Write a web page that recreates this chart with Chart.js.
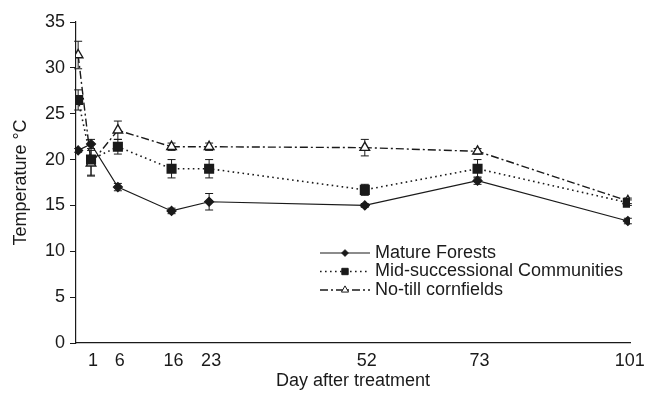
<!DOCTYPE html>
<html>
<head>
<meta charset="utf-8">
<script src="https://cdn.jsdelivr.net/npm/chart.js@4.4.0/dist/chart.umd.min.js"></script>
<style>
    html, body { margin: 0; padding: 0; background: #fff; }
    #wrap { width: 652px; height: 394px; }
</style>
</head>
<body>
<div id="wrap"><canvas id="tempChart" width="652" height="394"></canvas></div>
<script>
// Values (first point sits just before day 1, on the axis)
const days = [-1.4, 1, 6, 16, 23, 52, 73, 101];
const tickDays = [1, 6, 16, 23, 52, 73, 101];

const matureForests = [21.0, 21.7, 17.0, 14.4, 15.4, 15.0, 17.7, 13.3];
const matureErr     = [0.2, 0.5, 0.4, 0.3, 0.9, 0.2, 0.4, 0.3];

const midSuccessional = [26.5, 20.0, 21.4, 19.0, 19.0, 16.7, 19.0, 15.3];
const midErr          = [1.1, 1.7, 0.8, 1.0, 1.0, 0.6, 1.0, 0.3];

const noTill    = [31.4, 19.6, 23.2, 21.4, 21.4, 21.3, 20.9, 15.5];
const noTillErr = [1.5, 1.4, 1.0, 0.4, 0.4, 0.9, 0.3, 0.3];

const seriesNames = ['Mature Forests', 'Mid-successional Communities', 'No-till cornfields'];

(function() {
    'use strict';

    const INK = '#1a1a1a';
    const FONT = '"Liberation Sans", Arial, sans-serif';

    const toPoints = (vals) => vals.map((v, i) => ({ x: days[i], y: v }));

    /**
     * Error bars drawn from each dataset's errors array via the y scale
     */
    const errorBars = {
        id: 'errorBars',
        beforeDatasetsDraw(chart) {
            const ctx = chart.ctx;
            const yScale = chart.scales.y;
            ctx.save();
            ctx.strokeStyle = INK;
            ctx.lineWidth = 1;
            ctx.setLineDash([]);
            chart.data.datasets.forEach((ds, di) => {
                const meta = chart.getDatasetMeta(di);
                meta.data.forEach((pt, i) => {
                    const e = ds.errors[i];
                    if (!e) return;
                    const top = yScale.getPixelForValue(ds.data[i].y + e);
                    const bot = yScale.getPixelForValue(ds.data[i].y - e);
                    ctx.beginPath();
                    ctx.moveTo(pt.x, top); ctx.lineTo(pt.x, bot);
                    ctx.moveTo(pt.x - 4, top); ctx.lineTo(pt.x + 4, top);
                    ctx.moveTo(pt.x - 4, bot); ctx.lineTo(pt.x + 4, bot);
                    ctx.stroke();
                });
            });
            ctx.restore();
        }
    };

    /**
     * Legend drawn inside the plot area, lower right
     */
    const innerLegend = {
        id: 'innerLegend',
        afterDraw(chart, args, opts) {
            const ctx = chart.ctx;
            ctx.save();
            ctx.font = '18px ' + FONT;
            ctx.fillStyle = INK;
            ctx.textBaseline = 'middle';
            chart.data.datasets.forEach((ds, i) => {
                const y = opts.top + i * opts.rowGap;
                ctx.strokeStyle = INK;
                ctx.lineWidth = ds.borderWidth;
                ctx.setLineDash(ds.borderDash || []);
                ctx.beginPath();
                ctx.moveTo(opts.left, y);
                ctx.lineTo(opts.left + opts.lineLen, y);
                ctx.stroke();
                ctx.setLineDash([]);
                ctx.fillStyle = ds.pointBackgroundColor;
                ctx.lineWidth = 1;
                Chart.helpers.drawPoint(ctx, {
                    pointStyle: ds.pointStyle,
                    radius: ds.pointRadius * 0.75,
                    rotation: 0,
                    borderWidth: 1
                }, opts.left + opts.lineLen / 2, y);
                ctx.fillStyle = INK;
                ctx.fillText(ds.label, opts.left + opts.lineLen + 5, y);
            });
            ctx.restore();
        }
    };

    const datasets = [
        {
            label: seriesNames[0],
            data: toPoints(matureForests),
            errors: matureErr,
            borderColor: INK,
            borderWidth: 1.2,
            pointStyle: 'rectRot',
            pointRadius: 4.5,
            pointBackgroundColor: INK,
            pointBorderColor: INK
        },
        {
            label: seriesNames[1],
            data: toPoints(midSuccessional),
            errors: midErr,
            borderColor: INK,
            borderWidth: 1.6,
            borderDash: [1.6, 3.4],
            pointStyle: 'rect',
            pointRadius: 6,
            pointBackgroundColor: INK,
            pointBorderColor: INK
        },
        {
            label: seriesNames[2],
            data: toPoints(noTill),
            errors: noTillErr,
            borderColor: INK,
            borderWidth: 1.4,
            borderDash: [8, 3, 2, 3],
            pointStyle: 'triangle',
            pointRadius: 5.5,
            pointBackgroundColor: '#ffffff',
            pointBorderColor: INK
        }
    ];

    new Chart(document.getElementById('tempChart'), {
        type: 'line',
        data: { datasets },
        options: {
            responsive: false,
            animation: false,
            devicePixelRatio: 1,
            layout: { padding: { top: 22, right: 22, left: 6, bottom: 2 } },
            elements: {
                line: { tension: 0, fill: false },
                point: { borderWidth: 1, hoverRadius: 5 }
            },
            plugins: {
                legend: { display: false },
                tooltip: { enabled: false },
                innerLegend: { left: 320, top: 253, rowGap: 18.5, lineLen: 50 }
            },
            scales: {
                x: {
                    type: 'linear',
                    min: -1.8,
                    max: 101.4,
                    afterBuildTicks(scale) {
                        scale.ticks = tickDays.map(v => ({ value: v }));
                    },
                    afterFit(scale) { scale.height = 49; },
                    ticks: {
                        autoSkip: false,
                        maxRotation: 0,
                        padding: 7,
                        labelOffset: 2,
                        color: INK,
                        font: { family: FONT, size: 18 }
                    },
                    grid: { display: false, drawTicks: false },
                    border: { display: true, color: INK, width: 1.2 },
                    title: {
                        display: true,
                        text: 'Day after treatment',
                        color: INK,
                        padding: { top: 0, bottom: 0 },
                        font: { family: FONT, size: 18 }
                    }
                },
                y: {
                    min: 0,
                    max: 35,
                    afterFit(scale) { scale.width = 70; },
                    ticks: {
                        stepSize: 5,
                        padding: 5,
                        color: INK,
                        font: { family: FONT, size: 18 }
                    },
                    grid: {
                        display: true,
                        drawOnChartArea: false,
                        drawTicks: true,
                        tickLength: 6,
                        color: INK,
                        lineWidth: 1
                    },
                    border: { display: true, color: INK, width: 1.2 },
                    title: {
                        display: true,
                        text: 'Temperature \u00B0C',
                        color: INK,
                        padding: { top: 4, bottom: 2 },
                        font: { family: FONT, size: 18 }
                    }
                }
            }
        },
        plugins: [errorBars, innerLegend]
    });
})();
</script>
</body>
</html>
